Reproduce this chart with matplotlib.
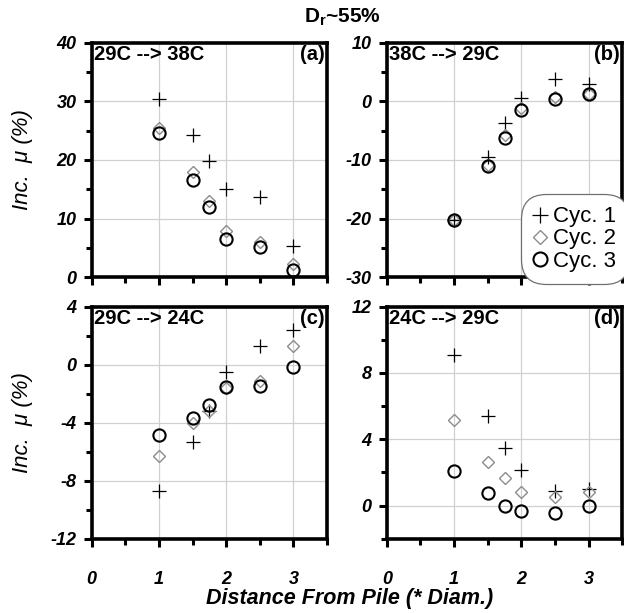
import matplotlib
matplotlib.use("Agg")
import matplotlib.pyplot as plt
from matplotlib.ticker import MultipleLocator

plt.rcParams.update({
    "font.family": ["Liberation Sans", "DejaVu Sans"],
    "mathtext.fontset": "custom",
    "mathtext.rm": "Liberation Sans",
    "mathtext.bf": "Liberation Sans:bold",
    "mathtext.it": "Liberation Sans:italic",
    "axes.unicode_minus": False,
})

# ── data ─────────────────────────────────────────────────────────────────────
dist = [1, 1.5, 1.75, 2, 2.5, 3]

a_cyc1 = [30.5, 24.2, 19.8, 15.1, 13.6, 5.3]
a_cyc2 = [25.5, 18.0, 13.0, 7.8, 6.0, 2.3]
a_cyc3 = [24.6, 16.5, 12.0, 6.5, 5.1, 1.2]

b_cyc1 = [-20.2, -9.5, -3.6, 0.6, 3.9, 3.0]
b_cyc2 = [-20.2, -10.8, -5.8, -1.2, 0.7, 1.3]
b_cyc3 = [-20.2, -11.1, -6.2, -1.5, 0.4, 1.2]

c_cyc1 = [-8.7, -5.3, -3.2, -0.5, 1.25, 2.35]
c_cyc2 = [-6.3, -4.05, -3.2, -1.6, -1.15, 1.25]
c_cyc3 = [-4.85, -3.7, -2.75, -1.55, -1.45, -0.15]

d_cyc1 = [9.1, 5.4, 3.5, 2.15, 0.9, 1.0]
d_cyc2 = [5.15, 2.6, 1.65, 0.8, 0.5, 0.8]
d_cyc3 = [2.1, 0.75, 0.0, -0.35, -0.45, -0.05]

x_ticks = [0, 1, 2, 3]
a_yticks = [0, 10, 20, 30, 40]
b_yticks = [-30, -20, -10, 0, 10]
c_yticks = [-12, -8, -4, 0, 4]
d_yticks = [0, 4, 8, 12]

panels = [
    # key, rect, ylim, yticks, case text, tag, series
    ("a", [0.147, 0.548, 0.377, 0.382], (0, 40), a_yticks, "29C --> 38C", "(a)", (a_cyc1, a_cyc2, a_cyc3)),
    ("b", [0.620, 0.548, 0.377, 0.382], (-30, 10), b_yticks, "38C --> 29C", "(b)", (b_cyc1, b_cyc2, b_cyc3)),
    ("c", [0.147, 0.121, 0.377, 0.379], (-12, 4), c_yticks, "29C --> 24C", "(c)", (c_cyc1, c_cyc2, c_cyc3)),
    ("d", [0.620, 0.121, 0.377, 0.379], (-2, 12), d_yticks, "24C --> 29C", "(d)", (d_cyc1, d_cyc2, d_cyc3)),
]

fig = plt.figure(figsize=(6.24, 6.13), dpi=100)

tick_font = {"fontsize": 13, "fontweight": "bold", "fontstyle": "italic"}

for key, rect, ylim, yt, case, tag, (s1, s2, s3) in panels:
    ax = fig.add_axes(rect)
    ax.plot(dist, s1, ls="none", marker="+", ms=9.5, mew=0.9, color="black", label="Cyc. 1")
    ax.plot(dist, s2, ls="none", marker="D", ms=6.3, mew=1.0, mfc="none", mec="#8c8c8c", label="Cyc. 2")
    ax.plot(dist, s3, ls="none", marker="o", ms=8.8, mew=1.5, mfc="none", mec="black", label="Cyc. 3")

    ax.set_xlim(0, 3.5)
    ax.set_ylim(*ylim)
    ax.set_yticks(yt, [str(v) for v in yt], **tick_font)
    if key in ("c", "d"):
        ax.set_xticks(x_ticks, [str(v) for v in x_ticks], **tick_font)
        ax.tick_params(axis="x", pad=17)
    else:
        ax.set_xticks(x_ticks, [])
    ax.xaxis.set_minor_locator(MultipleLocator(0.5))
    ax.yaxis.set_minor_locator(MultipleLocator((yt[1] - yt[0]) / 2))
    ax.grid(True, which="major", color="#d0d0d0", lw=0.9)
    ax.set_axisbelow(True)

    for sp in ax.spines.values():
        sp.set_linewidth(2.6)
    ax.tick_params(which="both", direction="out", width=2.2, top=False, right=False)
    ax.tick_params(which="major", length=6)
    ax.tick_params(which="minor", length=4)
    ax.tick_params(axis="y", pad=5)

    ax.text(0.008, 0.99, case, transform=ax.transAxes, ha="left", va="top",
            fontsize=14.5, fontweight="bold")
    ax.text(0.99, 0.99, tag, transform=ax.transAxes, ha="right", va="top",
            fontsize=14.5, fontweight="bold")

    if key in ("a", "c"):
        ax.set_ylabel("Inc.  μ (%)", fontsize=16, fontstyle="italic")
        ax.yaxis.set_label_coords(-0.25, 0.5)

    if key == "b":
        leg = ax.legend(loc="lower right", bbox_to_anchor=(1.0, 0.0), fontsize=16,
                        frameon=True, fancybox=True, framealpha=1, edgecolor="#707070",
                        handlelength=0.6, handletextpad=0.3, borderpad=0.25,
                        labelspacing=0.05, borderaxespad=0.0, markerscale=1.15)
        leg.get_frame().set_boxstyle("round,pad=0.3,rounding_size=1.1")
        leg.get_frame().set_linewidth(0.9)

fig.text(0.549, 0.955, r"$\mathbf{D_r}$~55%", ha="center", va="bottom",
         fontsize=15, fontweight="bold")
fig.text(0.56, 0.006, "Distance From Pile (* Diam.)", ha="center", va="bottom",
         fontsize=15.5, fontweight="bold", fontstyle="italic")

fig.savefig("out.png", dpi=100)
